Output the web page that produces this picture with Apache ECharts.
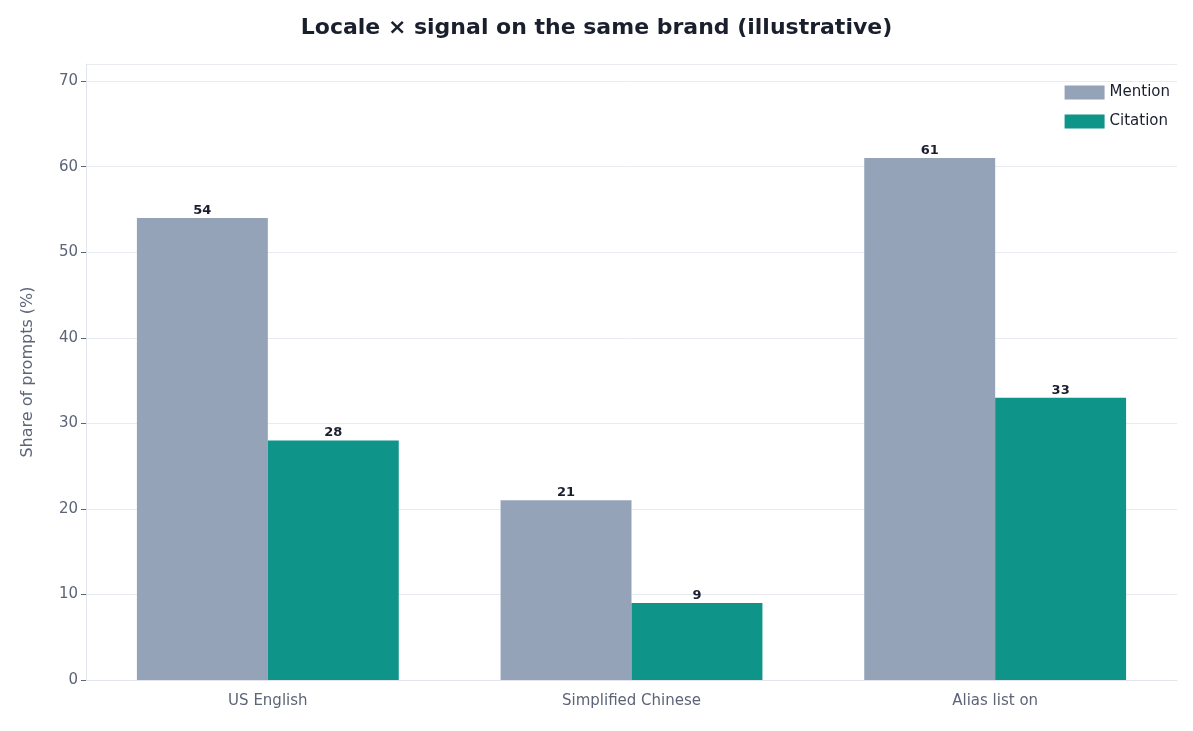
<!DOCTYPE html>
<html><head><meta charset="utf-8">
<script src="https://cdn.jsdelivr.net/npm/echarts@6/dist/echarts.min.js"></script>
<style>html,body{margin:0;padding:0;background:#fff}#c{width:1193px;height:731px}</style>
</head><body><div id="c"></div>
<script>
const categories = ["US English", "Simplified Chinese", "Alias list on"];
const mention = [54, 21, 61];
const citation = [28, 9, 33];
const yTicks = [0, 10, 20, 30, 40, 50, 60, 70];

const chart = echarts.init(document.getElementById('c'));
const font = "DejaVu Sans";
const lbl = {show:true, position:'top', distance:1, color:'#1a1f2e', fontWeight:'bold', fontSize:13, fontFamily:font};
chart.setOption({
  textStyle:{fontFamily:font},
  title:{text:'Locale × signal on the same brand (illustrative)', left:'center', top:12,
    textStyle:{fontSize:22, fontWeight:'bold', color:'#1a1f2e', fontFamily:font}},
  legend:{right:18, top:80, orient:'vertical', itemWidth:40, itemHeight:14, itemGap:14,
    textStyle:{fontSize:15, color:'#1a1f2e', fontFamily:font}, icon:'rect',
    data:['Mention','Citation']},
  grid:{left:86, right:16, top:64, bottom:51},
  xAxis:{type:'category', data:categories,
    axisLine:{lineStyle:{color:'#e2e6ec'}},
    axisTick:{alignWithLabel:true, length:6, lineStyle:{color:'#5c6478'}},
    axisLabel:{fontSize:15, color:'#5c6478', margin:14, fontFamily:font}},
  yAxis:{type:'value', min:0, max:72, interval:10,
    name:'Share of prompts (%)', nameLocation:'middle', nameGap:50,
    nameTextStyle:{fontSize:16, color:'#5c6478', fontFamily:font},
    axisLine:{show:true, lineStyle:{color:'#e2e6ec'}},
    axisTick:{show:true, length:5, lineStyle:{color:'#5c6478'}},
    axisLabel:{fontSize:15, color:'#5c6478', showMaxLabel:false, fontFamily:font,
      formatter:v=>yTicks.includes(v)?String(v):''},
    splitLine:{lineStyle:{color:'#e8ebf0'}}},
  series:[
    {name:'Mention', type:'bar', data:mention, barGap:'0%', barCategoryGap:'28%',
      itemStyle:{color:'#94a3b8'}, label:lbl},
    {name:'Citation', type:'bar', data:citation,
      itemStyle:{color:'#0e9488'}, label:lbl}
  ]
});
</script></body></html>
